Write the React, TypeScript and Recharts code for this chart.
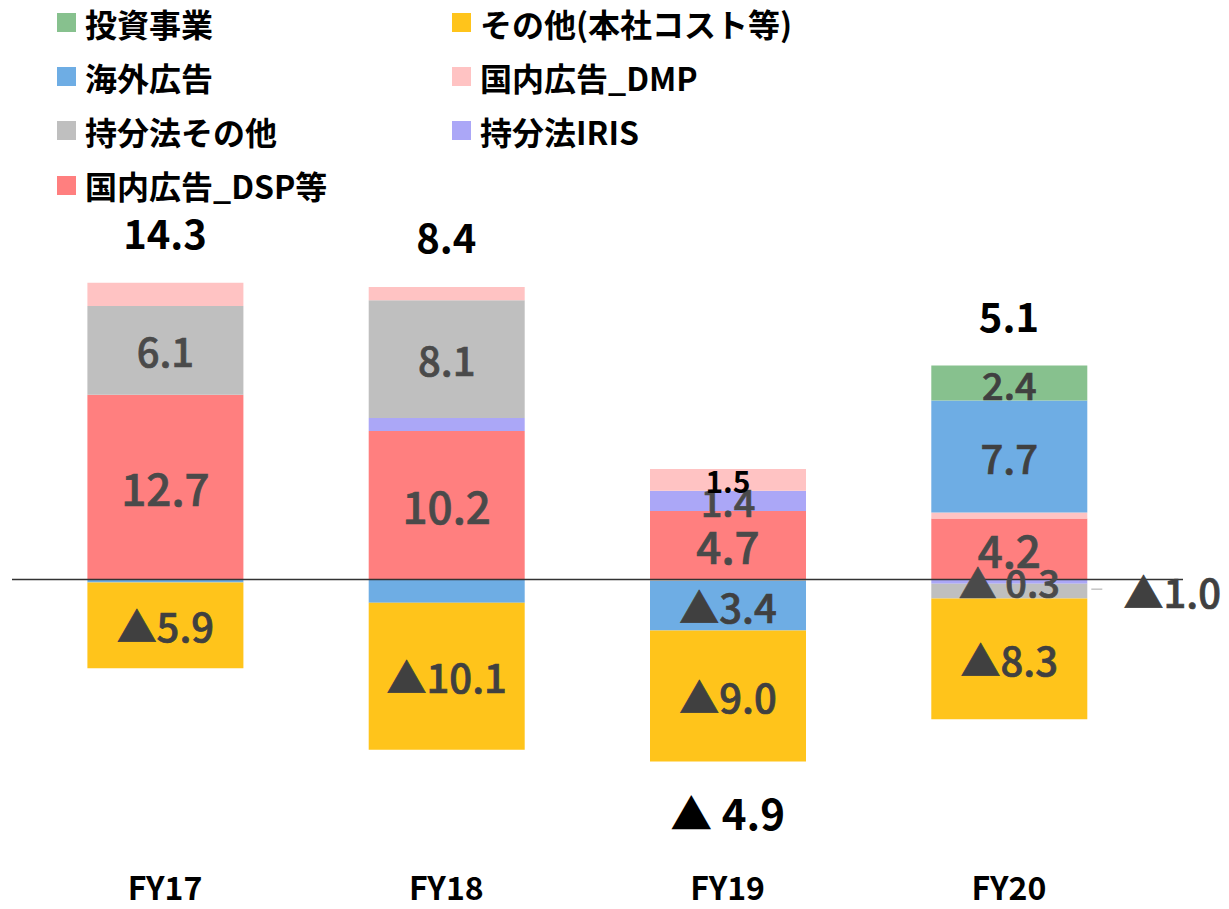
import React from "react";
import { BarChart, Bar, XAxis, YAxis, ReferenceLine, ReferenceDot, LabelList } from "recharts";

const categories = ["FY17", "FY18", "FY19", "FY20"];
const dspValues = [12.7, 10.2, 4.7, 4.2];
const irisValues = [0, 0.9, 1.4, -0.3];
const equityOtherValues = [6.1, 8.1, -0.1, -1.0];
const dmpValues = [1.6, 0.9, 1.5, 0.4];
const overseasValues = [-0.2, -1.6, -3.4, 7.7];
const corporateValues = [-5.9, -10.1, -9.0, -8.3];
const investValues = [0, 0, 0, 2.4];

const dspLabels = ["12.7", "10.2", "4.7", "4.2"];
const irisLabels = [null, null, "1.4", "▲ 0.3"];
const equityOtherLabels = ["6.1", "8.1", null, "▲1.0"];
const dmpLabels = [null, null, "1.5", null];
const overseasLabels = [null, null, "▲3.4", "7.7"];
const corporateLabels = ["▲5.9", "▲10.1", "▲9.0", "▲8.3"];
const investLabels = [null, null, null, "2.4"];
const totalLabels = ["14.3", "8.4", "▲ 4.9", "5.1"];

const FONT = "'Noto Sans CJK JP', 'Noto Sans', sans-serif";

type SeriesCfg = {
  key: string;
  name: string;
  color: string;
  values: number[];
  labels: (string | null)[];
  fontSize: number;
  textColor: string;
  weight: number;
  outside?: boolean[];
};

const series: SeriesCfg[] = [
  { key: "dsp", name: "国内広告_DSP等", color: "#FF7F7F", values: dspValues, labels: dspLabels, fontSize: 44, textColor: "#4a4a4a", weight: 500 },
  { key: "iris", name: "持分法IRIS", color: "#ABA7F7", values: irisValues, labels: irisLabels, fontSize: 38, textColor: "#4a4a4a", weight: 500 },
  { key: "equity", name: "持分法その他", color: "#BFBFBF", values: equityOtherValues, labels: equityOtherLabels, fontSize: 40, textColor: "#4a4a4a", weight: 500, outside: [false, false, false, true] },
  { key: "dmp", name: "国内広告_DMP", color: "#FFC3C3", values: dmpValues, labels: dmpLabels, fontSize: 30, textColor: "#000000", weight: 700 },
  { key: "overseas", name: "海外広告", color: "#6EADE4", values: overseasValues, labels: overseasLabels, fontSize: 40, textColor: "#404040", weight: 500 },
  { key: "corporate", name: "その他(本社コスト等)", color: "#FFC41B", values: corporateValues, labels: corporateLabels, fontSize: 40, textColor: "#404040", weight: 500 },
  { key: "invest", name: "投資事業", color: "#87C18E", values: investValues, labels: investLabels, fontSize: 38, textColor: "#404040", weight: 500 },
];

const legendOrder = ["invest", "corporate", "overseas", "dmp", "equity", "iris", "dsp"];

const data = categories.map((cat, i) => {
  const row: Record<string, any> = { category: cat };
  series.forEach((s) => {
    row[s.key] = s.values[i];
    row[s.key + "Label"] = s.labels[i];
  });
  return row;
});

const anchors = categories.map((cat, i) => {
  let pos = 0;
  let neg = 0;
  series.forEach((s) => {
    const v = s.values[i];
    if (v >= 0) pos += v;
    else neg += v;
  });
  const total = pos + neg;
  return { cat, below: total < 0, y: total < 0 ? neg : pos, label: totalLabels[i] };
});

const makeSegmentLabel = (s: SeriesCfg) => (props: any) => {
  const { x, y, width, height, value, index } = props;
  if (value == null || value === "") return null;
  const cx = Number(x) + Number(width) / 2;
  const cy = Number(y) + Number(height) / 2;
  const strokeW = s.weight >= 700 ? 0 : 0.7;
  if (s.outside && s.outside[index]) {
    const right = Number(x) + Number(width);
    return (
      <g>
        <line x1={right + 4} x2={right + 15} y1={cy - 2} y2={cy - 2} stroke="#a6a6a6" strokeWidth={1} />
        <text x={right + 85} y={cy} textAnchor="middle" dominantBaseline="central" fontFamily={FONT} fontSize={s.fontSize} fontWeight={s.weight} fill="#404040" stroke="#404040" strokeWidth={strokeW}>
          {value}
        </text>
      </g>
    );
  }
  return (
    <text x={cx} y={cy} textAnchor="middle" dominantBaseline="central" fontFamily={FONT} fontSize={s.fontSize} fontWeight={s.weight} fill={s.textColor} stroke={s.textColor} strokeWidth={strokeW}>
      {value}
    </text>
  );
};

const AxisTick = (props: any) => {
  const { x, y, payload } = props;
  return (
    <text x={x} y={Number(y) + 74} textAnchor="middle" dominantBaseline="central" fontFamily={FONT} fontSize={32} fontWeight={700} fill="#000">
      {payload.value}
    </text>
  );
};

const makeTotalLabel = (below: boolean, text: string) => (props: any) => {
  const vb = props.viewBox || {};
  const cx = Number(vb.x) + Number(vb.width || 0) / 2;
  const cy = Number(vb.y) + Number(vb.height || 0) / 2;
  return (
    <text
      x={cx}
      y={below ? cy + 50 : cy - 51}
      textAnchor="middle"
      dominantBaseline="central"
      fontFamily={FONT}
      fontSize={below ? 42 : 40}
      fontWeight={700}
      fill="#000"
    >
      {text}
    </text>
  );
};

const Legend = () => {
  const items = legendOrder.map((k) => series.find((s) => s.key === k)!);
  return (
    <div style={{ position: "absolute", left: 0, top: 0, width: 1229, height: 220, pointerEvents: "none" }}>
      {items.map((s, i) => {
        const col = i % 2;
        const row = Math.floor(i / 2);
        const left = col === 0 ? 57 : 452;
        const top = 22.5 + row * 54.2;
        return (
          <div key={s.key} style={{ position: "absolute", left, top: top - 20, height: 40, display: "flex", alignItems: "center", whiteSpace: "nowrap" }}>
            <div style={{ width: 19, height: 19, background: s.color, marginRight: 9 }} />
            <span style={{ fontFamily: FONT, fontSize: 32, fontWeight: 700, color: "#000", lineHeight: "40px" }}>{s.name}</span>
          </div>
        );
      })}
    </div>
  );
};

export default function App() {
  return (
    <div style={{ position: "absolute", left: 0, top: 0, width: 1229, height: 909, background: "#fff" }}>
      <BarChart
        width={1229}
        height={909}
        data={data}
        stackOffset="sign"
        barSize={156}
        margin={{ top: 230.3, right: 46, bottom: 0, left: 12 }}
      >
        <XAxis
          dataKey="category"
          axisLine={false}
          tickLine={false}
          tickSize={0}
          tickMargin={0}
          height={96.7}
          padding={{ left: 12.4, right: 33.4 }}
          tick={<AxisTick />}
          interval={0}
        />
        <YAxis hide domain={[-16, 24]} type="number" allowDataOverflow />
        {series.map((s) => (
          <Bar key={s.key} dataKey={s.key} stackId="a" fill={s.color} isAnimationActive={false}>
            <LabelList dataKey={s.key + "Label"} content={makeSegmentLabel(s)} />
          </Bar>
        ))}
        <ReferenceLine y={0} stroke="#333333" strokeWidth={1.5} />
        {anchors.map((a) => (
          <ReferenceDot key={a.cat} x={a.cat} y={a.y} r={0} fill="none" stroke="none" label={makeTotalLabel(a.below, a.label)} />
        ))}
      </BarChart>
      <Legend />
    </div>
  );
}
